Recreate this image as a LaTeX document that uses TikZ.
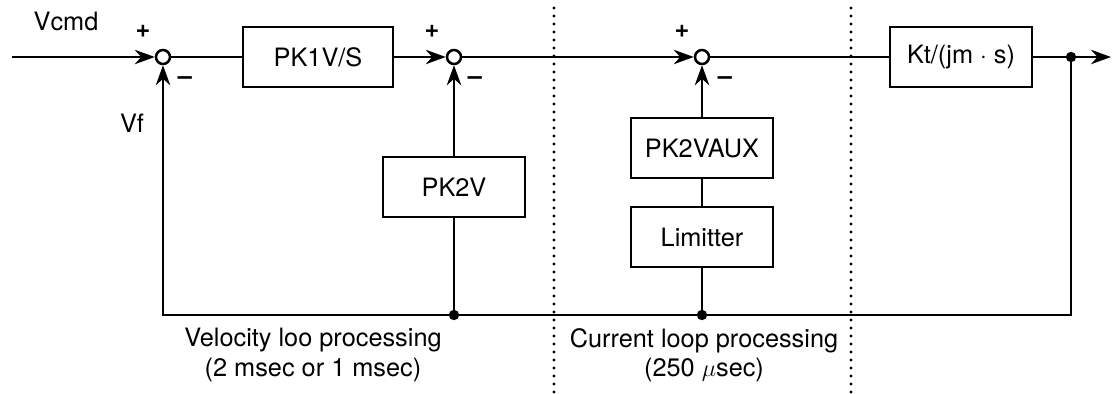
\documentclass[tikz,border=0pt]{standalone}
\usepackage{fontspec}
\setmainfont{TeX Gyre Heros}
\usetikzlibrary{arrows.meta}

\begin{document}
\begin{tikzpicture}[x=0.25mm, y=-0.25mm, line width=1.8pt,
    >={Stealth[length=5mm,width=3.6mm]},
    every node/.style={font=\fontsize{18}{21}\selectfont},
    sgn/.style={font=\fontsize{18}{21}\selectfont\bfseries},
    blk/.style={draw, minimum width=35.5mm, minimum height=15mm, inner sep=0pt},
    sumj/.style={draw, circle, minimum size=3.5mm, inner sep=0pt},
    sep/.style={line width=2.4pt, dash pattern=on 0pt off 2mm, line cap=round}]
        \useasboundingbox (0,0) rectangle (1112,393);

        \coordinate (in) at (12,57);
        \coordinate (br) at (1071,57);
        \coordinate (out) at (1111,57);
        \coordinate (fb1) at (163,315);
        \coordinate (fb2) at (454,315);
        \coordinate (fb3) at (702,315);

        \node[sumj] (s1) at (163,57) {};
        \node[sumj] (s2) at (454,57) {};
        \node[sumj] (s3) at (702,57) {};

        \node[blk, minimum width=37.5mm] (pk1) at (318,57) {PK1V/S};
        \node[blk] (kt) at (961,57) {Kt/(jm $\cdot$ s)};
        \node[blk] (pk2v) at (454,187) {PK2V};
        \node[blk] (aux) at (702,148) {PK2VAUX};
        \node[blk] (lim) at (702,237) {Limitter};

        % forward path
        \draw[->] (in) -- (s1);
        \draw (s1) -- (pk1);
        \draw[->] (pk1) -- (s2);
        \draw[->] (s2) -- (s3);
        \draw (s3) -- (kt);
        \draw (kt) -- (br);
        \draw[->] (br) -- (out);

        % feedback paths
        \draw[->] (br) |- (fb1) -- (s1);
        \draw (fb2) -- (pk2v);
        \draw[->] (pk2v) -- (s2);
        \draw (fb3) -- (lim);
        \draw (lim) -- (aux);
        \draw[->] (aux) -- (s3);

        \fill (br) circle (1.3mm);
        \fill (fb2) circle (1.3mm);
        \fill (fb3) circle (1.3mm);

        % sampling borders
        \draw[sep] (554,8) -- (554,393);
        \draw[sep] (851,8) -- (851,393);

        \node (vcmd) at (66,21) {Vcmd};
        \node (vf) at (132,123) {Vf};
        \node[sgn] (p1) at (143,31) {+};
        \node[sgn] (p2) at (432,31) {+};
        \node[sgn] (p3) at (682,31) {+};
        \node[sgn] (m1) at (185,81) {--};
        \node[sgn] (m2) at (475,81) {--};
        \node[sgn] (m3) at (725,81) {--};

        \node[align=center] (vel) at (313,355) {Velocity loo processing\\(2 msec or 1 msec)};
        \node[align=center] (cur) at (704,355) {Current loop processing\\(250 $\mu$sec)};
    \end{tikzpicture}
\end{document}
